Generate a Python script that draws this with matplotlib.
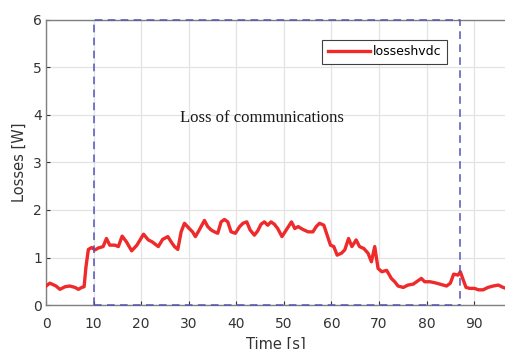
import numpy as np
import matplotlib.pyplot as plt

# losses trace
t = [0, 0.8, 2.1, 2.9, 4.0, 5.0, 6.1, 6.8, 7.5, 8.0, 8.4, 8.9, 9.6, 10.3, 11.0,
     12.0, 12.7, 13.4, 14.5, 15.2, 16.0, 16.9, 18.0, 19.1, 20.5, 21.5, 22.3,
     23.6, 24.5, 25.6, 26.3, 27.0, 27.7, 28.4, 29.1, 30.1, 30.8, 31.4, 32.1,
     33.3, 34.0, 34.7, 35.4, 36.1, 36.8, 37.5, 38.2, 38.9, 39.8, 40.7, 41.4,
     42.2, 42.9, 43.8, 44.5, 45.2, 45.9, 46.6, 47.3, 48.0, 48.7, 49.6, 50.5,
     51.6, 52.3, 53.0, 54.0, 55.1, 56.1, 56.8, 57.5, 58.4, 59.1, 59.8, 60.5,
     61.2, 62.1, 62.8, 63.6, 64.3, 65.2, 65.9, 66.8, 67.7, 68.4, 69.1, 69.8,
     70.6, 71.6, 72.6, 73.3, 74.0, 75.1, 76.1, 77.2, 77.9, 78.9, 79.6, 80.7,
     81.7, 82.8, 84.2, 85.0, 85.7, 86.6, 87.1, 87.7, 88.3, 89.1, 90.1, 90.9,
     91.9, 92.9, 94.0, 95.1, 96.1, 96.7]
losses = [0.40, 0.46, 0.40, 0.33, 0.385, 0.40, 0.37, 0.33, 0.37, 0.385, 0.81,
          1.17, 1.21, 1.16, 1.20, 1.23, 1.40, 1.26, 1.26, 1.23, 1.45, 1.33,
          1.14, 1.26, 1.49, 1.37, 1.33, 1.23, 1.38, 1.44, 1.33, 1.23, 1.17,
          1.54, 1.72, 1.61, 1.54, 1.44, 1.56, 1.78, 1.65, 1.58, 1.54, 1.51,
          1.75, 1.80, 1.75, 1.54, 1.51, 1.65, 1.72, 1.75, 1.58, 1.47, 1.56,
          1.70, 1.75, 1.68, 1.75, 1.70, 1.61, 1.44, 1.58, 1.75, 1.61, 1.65,
          1.59, 1.54, 1.54, 1.65, 1.72, 1.68, 1.47, 1.26, 1.23, 1.05, 1.09,
          1.16, 1.40, 1.23, 1.37, 1.23, 1.19, 1.09, 0.91, 1.23, 0.77, 0.70,
          0.73, 0.56, 0.49, 0.40, 0.37, 0.42, 0.44, 0.49, 0.56, 0.49, 0.49,
          0.47, 0.44, 0.40, 0.46, 0.65, 0.63, 0.70, 0.53, 0.37, 0.35, 0.35,
          0.32, 0.32, 0.37, 0.40, 0.42, 0.37, 0.35]

# communication outage window
t_off, t_on = 10, 87
y_top = 6

fig = plt.figure(figsize=(5.06, 3.49), dpi=100)
ax = fig.add_axes([0.091, 0.126, 0.909, 0.817])

gray = '#333333'
blue = '#5353b8'
ax.plot(t, losses, color='#ee2a2a', lw=2.4, label='losseshvdc', zorder=3)
ax.plot([t_off, t_off, t_on, t_on], [0, y_top, y_top, 0], '--',
        color=blue, lw=1.1, dashes=(5, 3.5), zorder=4, clip_on=False)
ax.plot([t_off, t_on], [0, 0], '--', color=blue, lw=1.1,
        dashes=(5, 3.5), zorder=4, clip_on=False)

ax.text(45.3, 3.94, 'Loss of communications', family='Liberation Serif',
        fontsize=12, ha='center', va='center', color='#1a1a1a')

ax.set_xlim(0, 96.7)
ax.set_ylim(0, 6)
ax.set_xticks(np.arange(0, 91, 10))
ax.set_yticks(np.arange(0, 7, 1))
ax.grid(True, color='#e3e3e3', lw=0.9)
ax.set_axisbelow(True)
ax.tick_params(direction='in', length=3, colors=gray, labelsize=10,
               top=False, right=False)
ax.tick_params(axis='x', pad=8.5)
ax.tick_params(axis='y', pad=3)
for s in ax.spines.values():
    s.set_color('#808080')
    s.set_linewidth(1.0)

ax.set_xlabel('Time [s]', fontsize=10.5, color=gray)
ax.xaxis.set_label_coords(0.5, -0.11)
ax.set_ylabel('Losses [W]', fontsize=10.5, color=gray)
ax.yaxis.set_label_coords(-0.041, 0.5)

leg = ax.legend(loc='upper right', bbox_to_anchor=(0.872, 0.93),
                borderaxespad=0, fontsize=9, fancybox=False, framealpha=1,
                handlelength=3.4, borderpad=0.45, handletextpad=0.2)
leg.get_frame().set_edgecolor('#404040')
leg.get_frame().set_linewidth(0.8)

fig.savefig('out.png', dpi=100)
